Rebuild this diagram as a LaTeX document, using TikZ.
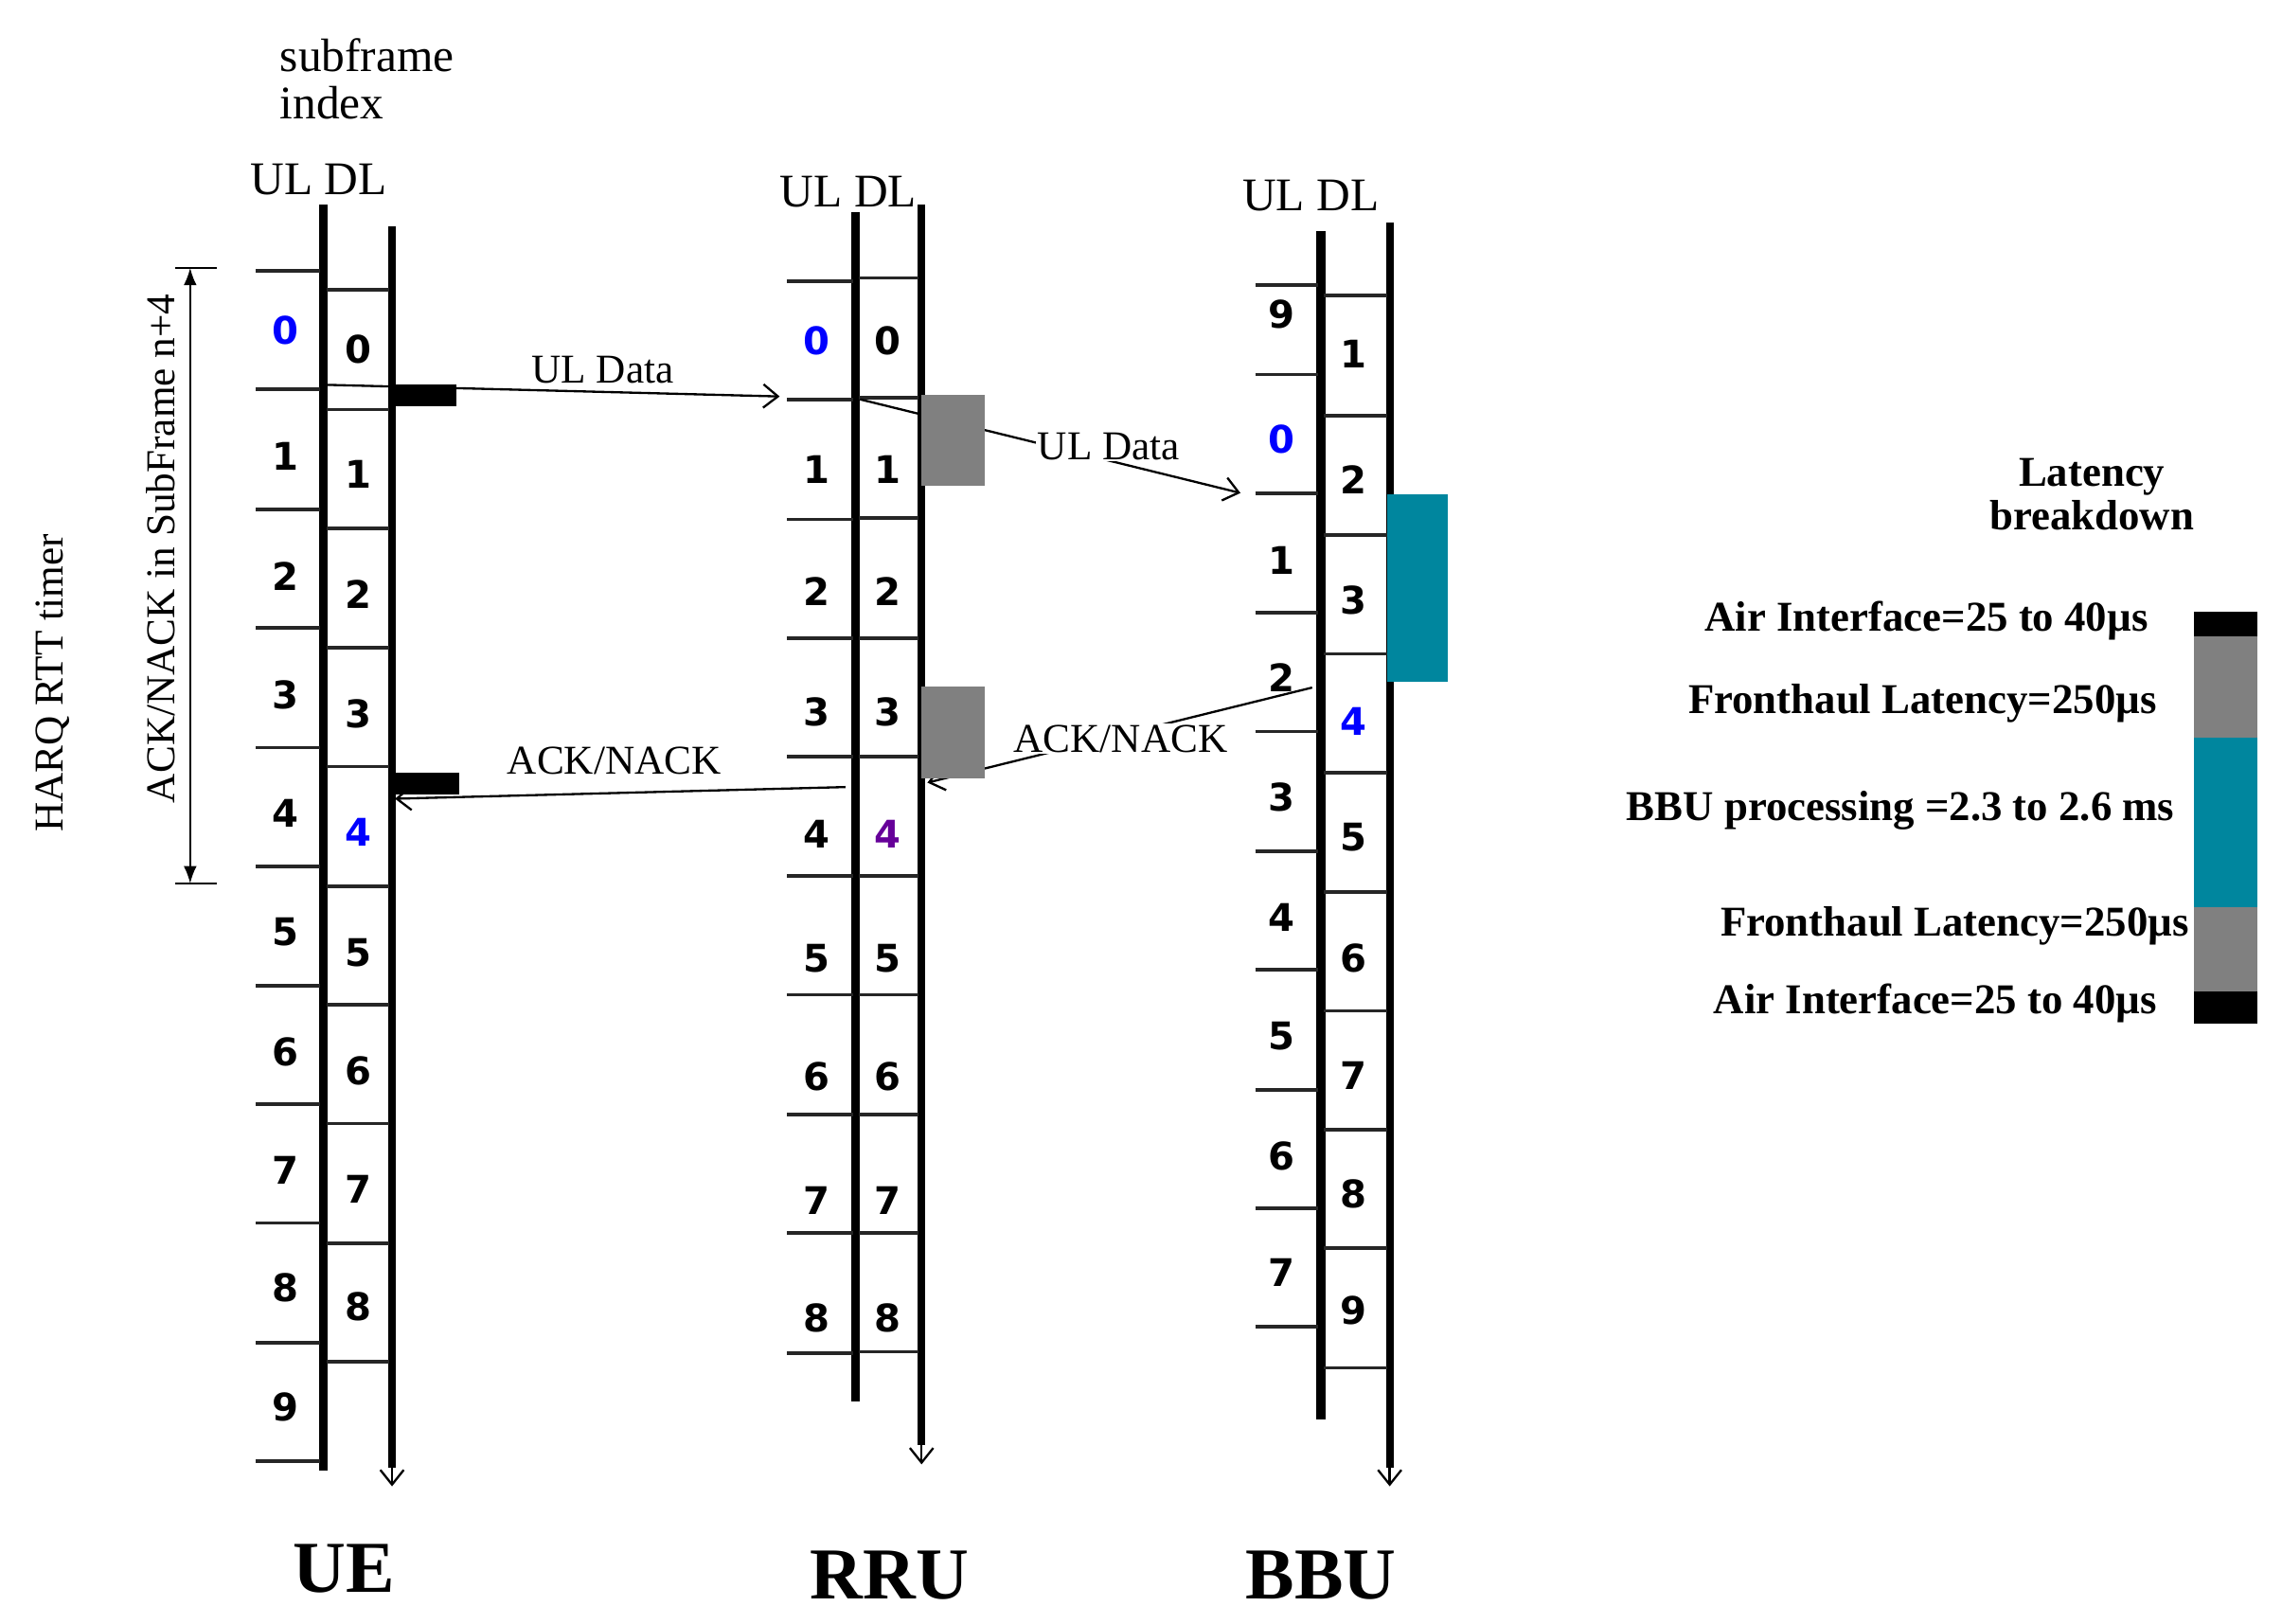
\documentclass[tikz,border=0pt]{standalone}
\usepackage{fontspec}
\setmainfont{Liberation Serif}
\newfontfamily\numf{DejaVu Sans}
\usetikzlibrary{arrows.meta}
\definecolor{tealc}{RGB}{0,134,158}
\definecolor{grayc}{RGB}{128,128,128}
\begin{document}
\begin{tikzpicture}[x=1pt,y=-1pt,
  axis/.style={line width=6pt},
  tick/.style={line width=2.5pt,black!85},
  num/.style={font=\numf\bfseries\fontsize{26}{30}\selectfont},
  hdr/.style={font=\fontsize{32}{36}\selectfont},
  lab/.style={font=\fontsize{28}{32}\selectfont},
  big/.style={font=\bfseries\fontsize{50}{56}\selectfont},
  lat/.style={font=\bfseries\fontsize{29}{32}\selectfont,anchor=east},
  arr/.style={line width=1.5pt,-{Straight Barb[length=14pt,width=22pt,line width=1.5pt]}},
  opena/.style={line width=1.5pt,-{Straight Barb[length=10pt,width=16pt,line width=1.5pt]}}]
\useasboundingbox (0,0) rectangle (1560,1110);
% ---------- UE ----------
\draw[axis] (221,140) -- (221,1005);
\draw[line width=5pt] (268,155) -- (268,1003);
\draw[line width=1.5pt,-{Straight Barb[length=10pt,width=16pt]}] (268,1000) -- (268,1016);
\foreach \y in {185,266,348,429,511,592,674,755,836,918,999} \draw[tick] (175,\y) -- (219,\y);
\foreach \y in {198,280,361,443,524,606,687,768,850,931} \draw[tick] (223,\y) -- (266,\y);
\foreach \i/\y in {0/226,1/312,2/394,3/475,4/556,5/637,6/719,7/800,8/880,9/962}
  \node[num] (ueu\i) at (195,\y) {\ifnum\i=0 \textcolor{blue}{0}\else\i\fi};
\foreach \i/\y in {0/239,1/324,2/406,3/488,4/569,5/651,6/732,7/813,8/893}
  \node[num] (ued\i) at (245,\y) {\ifnum\i=4 \textcolor{blue}{4}\else\i\fi};
\node[hdr] (uehdr) at (218,123) {UL DL};
\node[hdr,align=left] (sfi) at (251,54) {subframe\\[-4pt]index};
\node[big] (ue) at (235,1072) {UE};
% HARQ
\draw[line width=1.5pt] (120,183) -- (148,183) (120,604) -- (148,604);
\draw[line width=1.5pt,{Latex[length=12pt,width=9pt]}-{Latex[length=12pt,width=9pt]}] (130,183) -- (130,604);
\node[lab,rotate=90] (ack4) at (110,375) {ACK/NACK in SubFrame n+4};
\node[lab,rotate=90] (harq) at (36,467) {HARQ RTT timer};
% ---------- RRU ----------
\draw[axis] (585,145) -- (585,958);
\draw[line width=5pt] (630,140) -- (630,988);
\draw[line width=1.5pt,-{Straight Barb[length=10pt,width=16pt]}] (630,985) -- (630,1001);
\foreach \y in {192,273,355,436,517,599,680,762,843,925} \draw[tick] (538,\y) -- (583,\y);
\foreach \y in {190,272,354,436,517,599,680,762,843,924} \draw[tick] (587,\y) -- (628,\y);
\foreach \i/\y in {0/233,1/321,2/404,3/487,4/570,5/655,6/736,7/821,8/901}
  \node[num] (rru\i) at (558,\y) {\ifnum\i=0 \textcolor{blue}{0}\else\i\fi};
\foreach \i/\y in {0/233,1/321,2/404,3/487,4/570,5/655,6/736,7/821,8/901}
  \node[num] (rrd\i) at (607,\y) {\ifnum\i=4 \textcolor{violet!80!blue}{4}\else\i\fi};
\node[hdr] (rruhdr) at (580,131) {UL DL};
\node[big] (rru) at (608,1077) {RRU};
% ---------- BBU ----------
\draw[axis] (903,158) -- (903,970);
\draw[line width=5pt] (950,152) -- (950,1003);
\draw[line width=1.5pt,-{Straight Barb[length=10pt,width=16pt]}] (950,1000) -- (950,1016);
\foreach \y in {195,256,337,419,500,582,663,745,826,907} \draw[tick] (858,\y) -- (901,\y);
\foreach \y in {202,284,366,447,528,610,691,772,853,935} \draw[tick] (905,\y) -- (948,\y);
\foreach \i/\y in {9/215,0/300,1/383,2/463,3/545,4/627,5/708,6/790,7/870}
  \node[num] (bbu\i) at (876,\y) {\ifnum\i=0 \textcolor{blue}{0}\else\i\fi};
\foreach \i/\y in {1/242,2/328,3/410,4/493,5/572,6/655,7/735,8/816,9/896}
  \node[num] (bbd\i) at (925,\y) {\ifnum\i=4 \textcolor{blue}{4}\else\i\fi};
\node[hdr] (bbuhdr) at (896,134) {UL DL};
\node[big] (bbu) at (903,1077) {BBU};
% ---------- processing boxes ----------
\fill (268,263) rectangle (312,278);
\fill (268,528) rectangle (314,543);
\fill[grayc] (630,270) rectangle (673,332);
\fill[grayc] (630,469) rectangle (673,532);
\fill[tealc] (948,338) rectangle (990,466);
% ---------- messages ----------
\coordinate (a1) at (221,263); \coordinate (a2) at (533,271);
\draw[opena] (a1) -- (a2);
\node[lab] (uld1) at (412,253) {UL Data};
\coordinate (b1) at (588,273); \coordinate (b2) at (848,337);
\draw[opena] (b1) -- (b2);
\fill[grayc] (630,270) rectangle (673,332);
\node[lab,fill=white,inner sep=1pt] (uld2) at (758,305) {UL Data};
\coordinate (c1) at (897,470); \coordinate (c2) at (634,535);
\draw[opena] (c1) -- (c2);
\fill[grayc] (630,469) rectangle (673,532);
\node[lab,fill=white,inner sep=1pt] (ack2) at (766,505) {ACK/NACK};
\coordinate (d1) at (578,538); \coordinate (d2) at (270,546);
\draw[opena] (d1) -- (d2);
\fill (268,528) rectangle (314,543);
\node[lab] (ack1) at (420,520) {ACK/NACK};
% ---------- latency breakdown ----------
\node[lat,anchor=center,align=center] (lb) at (1430,338) {Latency\\[-2pt]breakdown};
\fill (1500,418) rectangle (1543,435);
\fill[grayc] (1500,435) rectangle (1543,504);
\fill[tealc] (1500,504) rectangle (1543,620);
\fill[grayc] (1500,620) rectangle (1543,678);
\fill (1500,678) rectangle (1543,700);
\node[lat] (l1) at (1472,424) {Air Interface=25 to 40µs};
\node[lat] (l2) at (1478,481) {Fronthaul Latency=250µs};
\node[lat] (l3) at (1490,554) {BBU processing =2.3 to 2.6 ms};
\node[lat] (l4) at (1500,633) {Fronthaul Latency=250µs};
\node[lat] (l5) at (1478,686) {Air Interface=25 to 40µs};
\end{tikzpicture}
\end{document}
